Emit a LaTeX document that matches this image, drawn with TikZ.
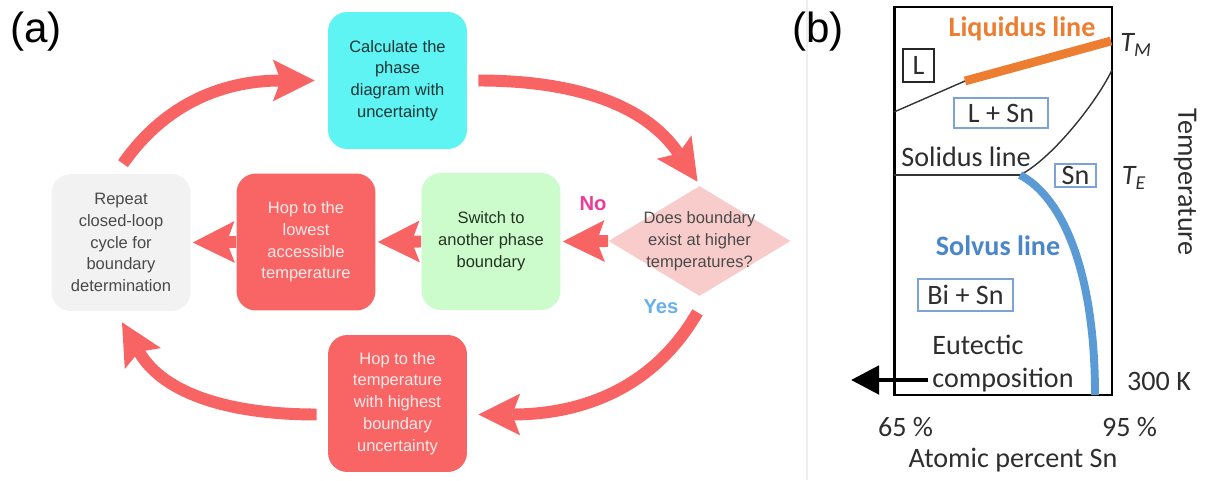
\documentclass[tikz,border=0pt]{standalone}
\usepackage{fontspec}
\setmainfont{Liberation Sans}
\newfontfamily\calfont{Carlito}
\usetikzlibrary{arrows.meta,shapes.geometric,calc}

\definecolor{cyanbox}{HTML}{5FF4F4}
\definecolor{redbox}{HTML}{F96565}
\definecolor{greenbox}{HTML}{CCFCCC}
\definecolor{graybox}{HTML}{F2F2F2}
\definecolor{pinkdia}{HTML}{F9CCCC}
\definecolor{arrowred}{HTML}{F86464}
\definecolor{nomag}{HTML}{EE3B96}
\definecolor{yesblue}{HTML}{6AB0EA}
\definecolor{cyantext}{HTML}{1E3434}
\definecolor{graytext}{HTML}{4A4A4A}
\definecolor{redtext}{HTML}{FFEAEA}
\definecolor{greentext}{HTML}{223322}
\definecolor{liqorange}{HTML}{ED7D31}
\definecolor{solvblue}{HTML}{5B9BD5}
\definecolor{solvtext}{HTML}{4A86C8}
\definecolor{phaseblue}{HTML}{7DA3D6}
\definecolor{plottext}{HTML}{2E2E2E}
\definecolor{sepgray}{HTML}{EEEEEE}

\tikzset{
  box/.style={rounded corners=11pt, minimum width=2.78cm, minimum height=2.74cm,
    align=center, inner sep=0pt, font=\fontsize{9.4pt}{12.4pt}\selectfont},
  diam/.style={diamond, fill=pinkdia, inner sep=0pt, aspect=1.65,
    minimum width=3.64cm, minimum height=2.2cm},
  flow/.style={line width=6.8pt, draw=arrowred,
    -{Stealth[length=23.8pt, width=23.8pt, inset=4.5pt, line width=0pt]}},
  panel/.style={font=\fontsize{24pt}{26pt}\selectfont},
  answer/.style={font=\fontsize{11.5pt}{12pt}\selectfont\bfseries},
  plotfont/.style={font=\calfont\fontsize{16pt}{18pt}\selectfont, text=plottext},
  phasebox/.style={plotfont, draw=phaseblue, line width=0.6pt, inner sep=0pt},
  thinline/.style={line width=0.8pt, draw=black!80},
}

\begin{document}
\begin{tikzpicture}[x=0.02cm, y=0.02cm]
\useasboundingbox (0,0) rectangle (1219,-480);
\fill[white] (0,0) rectangle (1219,-480);
\draw[sepgray, line width=0.6pt] (807,0) -- (807,-480);

% ---------- (a) closed-loop workflow ----------
\node[panel] (la) at (36,-32) {(a)};

\node[box, fill=cyanbox, text=cyantext] (calc) at (397.5,-80.5)
  {Calculate the\\phase\\diagram with\\uncertainty};
\node[box, fill=graybox, text=graytext] (rep) at (121,-242.5)
  {Repeat\\closed-loop\\cycle for\\boundary\\determination};
\node[box, fill=redbox, text=redtext] (hl) at (306,-242)
  {Hop to the\\lowest\\accessible\\temperature};
\node[box, fill=greenbox, text=greentext] (sw) at (491,-241.5)
  {Switch to\\another phase\\boundary};
\node[diam] (dia) at (699.5,-241) {};
\node[font=\fontsize{9.4pt}{12.4pt}\selectfont, text=graytext, align=center]
  (diatext) at (dia.center) {Does boundary\\exist at higher\\temperatures?};
\node[box, fill=redbox, text=redtext] (hh) at (397.5,-403.5)
  {Hop to the\\temperature\\with highest\\boundary\\uncertainty};

\node[answer, text=nomag] (no) at (593,-204) {No};
\node[answer, text=yesblue] (yes) at (661,-307) {Yes};

\draw[flow] ($(rep.north)+(2,10)$) to[out=55, in=180] ($(calc.west)+(-13,0)$);
\draw[flow] ($(calc.east)+(11,0)$) to[out=0, in=124] ($(dia.north)+(-2,4)$);
\draw[flow] (dia.west) -- ($(sw.east)+(2,0)$);
\draw[flow] (sw.west) -- ($(hl.east)+(2,0)$);
\draw[flow] (hl.west) -- ($(rep.east)+(2,0)$);
\draw[flow] ($(dia.south)+(-2,-16)$) to[out=240, in=0] ($(hh.east)+(11,-11)$);
\draw[flow] ($(hh.west)+(-11,-11)$) to[out=180, in=300] ($(rep.south)+(1,-11)$);

% ---------- (b) Bi-Sn phase diagram sketch ----------
\node[panel] (lb) at (818,-32) {(b)};

\draw[line width=1.1pt] (894,-7) rectangle (1112,-395);
\draw[line width=1.7pt] (894,-7) -- (894,-395);

\coordinate (liqa) at (894,-112);
\coordinate (liqk) at (965,-81);
\coordinate (liqb) at (1111,-41);
\draw[thinline] (liqa) -- (liqk);
\draw[liqorange, line width=5pt] (liqk) -- (liqb);

\coordinate (eut) at (1020,-175);
\draw[thinline] (1112,-70) .. controls (1095,-105) and (1050,-160) .. (eut);
\draw[thinline] (894,-175) -- (eut);
\draw[solvblue, line width=4.5pt] (eut) .. controls (1062,-197) and (1095,-270) .. (1095,-395);

\node[plotfont, text=liqorange, font=\calfont\bfseries\fontsize{16pt}{18pt}\selectfont]
  (liqlab) at (1022,-29) {Liquidus line};
\node[phasebox, draw=black!85, minimum width=0.62cm, minimum height=0.66cm] (pL) at (918.5,-65.5) {L};
\node[phasebox, minimum width=1.88cm, minimum height=0.6cm] (pLS) at (1001,-113) {L + Sn};
\node[plotfont] (sollab) at (966,-157) {Solidus line};
\node[phasebox, minimum width=0.82cm, minimum height=0.46cm] (pS) at (1075.5,-175.5) {Sn};
\node[plotfont, text=solvtext, font=\calfont\bfseries\fontsize{16pt}{18pt}\selectfont]
  (solvlab) at (998,-246) {Solvus line};
\node[phasebox, minimum width=1.9cm, minimum height=0.64cm] (pBS) at (965.5,-295) {Bi + Sn};
\node[plotfont, anchor=west, inner sep=0pt] (eutlab) at (932,-345) {Eutectic};
\node[plotfont, anchor=west, inner sep=0pt] (comp) at (932,-380) {composition};
\coordinate (compend) at (851,-380);
\draw[line width=2.8pt, -{Triangle[length=16pt, width=16pt]}] ($(comp.west)+(-4,0)$) -- (compend);

\node[plotfont] (tm) at (1136,-45) {\itshape T\textsubscript{M}};
\node[plotfont] (te) at (1134,-178) {\itshape T\textsubscript{E}};
\node[plotfont, rotate=-90] (temp) at (1185,-182) {Temperature};
\node[plotfont] (k300) at (1159,-381) {300 K};
\node[plotfont] (p65) at (905.5,-427) {65 \%};
\node[plotfont] (p95) at (1129.5,-427) {95 \%};
\node[plotfont] (xlab) at (1013,-460) {Atomic percent Sn};
\end{tikzpicture}
\end{document}
